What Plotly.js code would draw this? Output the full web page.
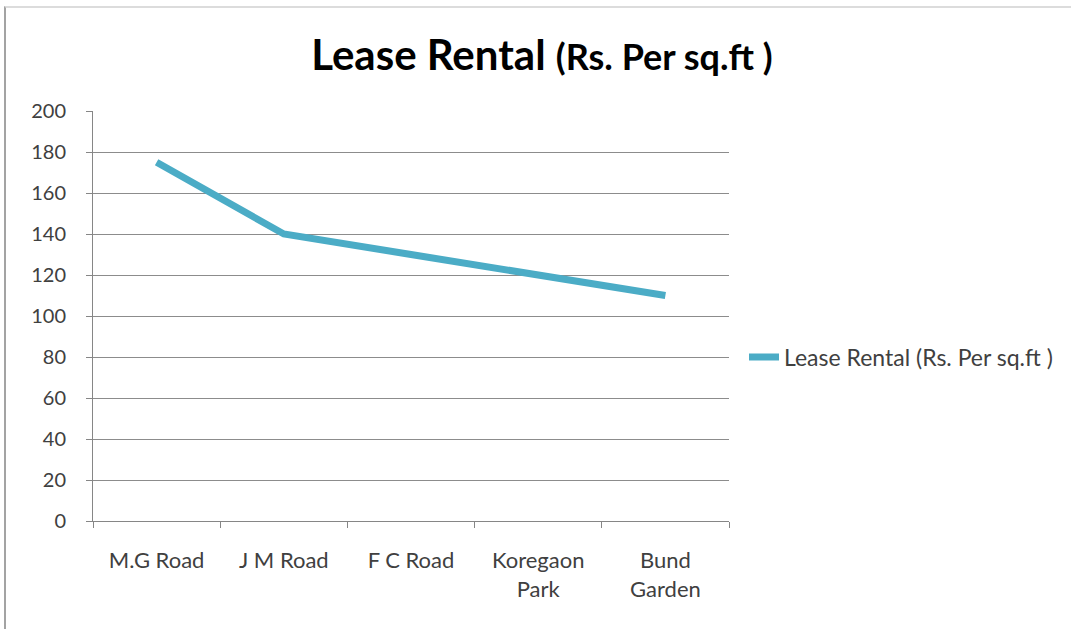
<!DOCTYPE html>
<html>
<head>
<meta charset="utf-8">
<script src="https://cdn.plot.ly/plotly-3.0.1.min.js"></script>
<style>
  html, body { margin: 0; padding: 0; background: #ffffff; }
  #chart { width: 1071px; height: 629px; position: absolute; left: 0; top: 0; }
  #frame { position: absolute; left: 4px; top: 6px; width: 1070px; height: 630px;
           border-top: 2px solid #dcdcdc; border-left: 2px solid #a3a3a3; pointer-events: none; }
</style>
</head>
<body>
<div id="chart"></div>
<div id="frame"></div>
<script>
const categories = ["M.G Road", "J M Road", "F C Road", "Koregaon<br>Park", "Bund<br>Garden"];
const leaseRental = [175, 140, 130, 120, 110];
const seriesName = "Lease Rental (Rs. Per sq.ft )";
const yTicks = [0, 20, 40, 60, 80, 100, 120, 140, 160, 180, 200];

const FONT = "Lato, 'Open Sans', sans-serif";

const trace = {
  x: categories,
  y: leaseRental,
  type: "scatter",
  mode: "lines",
  name: seriesName,
  line: { color: "#4BACC6", width: 7 },
  showlegend: true
};

const layout = {
  width: 1071,
  height: 629,
  paper_bgcolor: "#ffffff",
  plot_bgcolor: "#ffffff",
  margin: { l: 93, r: 342, t: 111, b: 108 },
  font: { family: FONT, color: "#404040", size: 20 },
  title: {
    text: "<b>Lease Rental <span style='font-size:36px'>(Rs. Per sq.ft )</span></b>",
    font: { family: FONT, size: 42, color: "#000000" },
    xref: "container", x: 0.506, xanchor: "center",
    yref: "container", y: 0.912, yanchor: "middle"
  },
  xaxis: {
    type: "category",
    range: [-0.5, 4.5],
    showgrid: false,
    zeroline: false,
    showline: true,
    linecolor: "#868686",
    linewidth: 1,
    ticks: "outside",
    tickson: "boundaries",
    ticklen: 6,
    tickcolor: "#868686",
    ticklabelstandoff: 20,
    tickfont: { family: FONT, size: 22, color: "#404040" },
    fixedrange: true
  },
  yaxis: {
    range: [0, 200],
    tickvals: yTicks,
    showgrid: true,
    gridcolor: "#8c8c8c",
    gridwidth: 1,
    zeroline: false,
    showline: true,
    linecolor: "#868686",
    linewidth: 1,
    ticks: "outside",
    ticklen: 6,
    tickcolor: "#868686",
    ticklabelstandoff: 16,
    tickfont: { family: FONT, size: 20, color: "#404040" },
    fixedrange: true
  },
  showlegend: true,
  legend: {
    x: 1.0236, xanchor: "left",
    y: 0.4, yanchor: "middle",
    bgcolor: "rgba(0,0,0,0)",
    borderwidth: 0,
    font: { family: FONT, size: 23, color: "#404040" }
  }
};

Plotly.newPlot("chart", [trace], layout, { displayModeBar: false, staticPlot: true });
</script>
</body>
</html>
